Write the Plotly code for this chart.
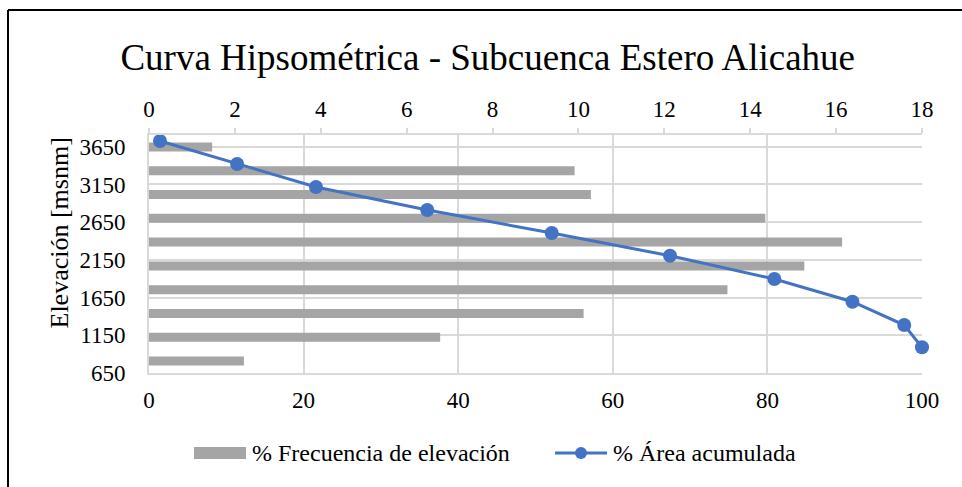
import plotly.graph_objects as go

# Elevation classes (mid-elevation of each band, top to bottom, m a.s.l.)
elev_media = [3648, 3333, 3017, 2701, 2386, 2070, 1755, 1439, 1123, 808]
# Share of basin area in each elevation band (%)
frecuencia = [1.47, 9.91, 10.29, 14.35, 16.14, 15.26, 13.47, 10.12, 6.78, 2.21]

# Hypsometric curve: cumulative area (%) versus elevation (m a.s.l.)
area_acumulada = [1.42, 11.4, 21.6, 36.0, 52.1, 67.4, 80.9, 91.0, 97.7, 100.0]
elevacion = [3726, 3421, 3117, 2811, 2506, 2205, 1896, 1595, 1286, 991]

y_ticks = [650, 1150, 1650, 2150, 2650, 3150, 3650]
area_ticks = [0, 20, 40, 60, 80, 100]
frec_max = 18
elev_rango = [650, 3806]

FONT = "Liberation Serif"
GRID = "#d9d9d9"
BLUE = "#4472C4"
GRAY = "#A5A5A5"

# plot-area placement in pixels (used to place legend / frame in paper units)
W, H = 962, 487
L, R, T, B = 149, 40, 135, 114
PW, PH = W - L - R, H - T - B


def px(xp):
    return (xp - L) / PW


def py(yp):
    return (H - B - yp) / PH


fig = go.Figure()

fig.add_trace(go.Bar(
    x=frecuencia, y=elev_media, orientation="h",
    xaxis="x", yaxis="y", width=120,
    marker=dict(color=GRAY, line=dict(width=0)),
    name="% Frecuencia de elevación", showlegend=False,
))

fig.add_trace(go.Scatter(
    x=area_acumulada, y=elevacion,
    xaxis="x2", yaxis="y",
    mode="lines+markers", cliponaxis=False,
    line=dict(color=BLUE, width=3),
    marker=dict(color=BLUE, size=14),
    name="% Área acumulada", showlegend=False,
))

fig.update_layout(
    width=W, height=H,
    margin=dict(l=L, r=R, t=T, b=B),
    paper_bgcolor="white", plot_bgcolor="white",
    font=dict(family=FONT, size=23, color="black"),
    title=dict(text="Curva Hipsométrica - Subcuenca Estero Alicahue",
               x=0.507, xanchor="center", y=0.883, yanchor="middle",
               font=dict(family=FONT, size=37, color="black")),
    showlegend=False,
    # top axis: frequency (%); vertical grid follows the bottom (area) axis
    xaxis=dict(range=[0, frec_max], dtick=2, tick0=0, side="top",
               showgrid=False, zeroline=False, showline=True, linecolor=GRID,
               linewidth=2, ticks="outside", ticklen=5, tickcolor=GRID,
               tickwidth=1.5, tickfont=dict(family=FONT, size=23),
               ticklabelstandoff=2,
               minor=dict(tickvals=[v * frec_max / 100 for v in area_ticks],
                          showgrid=True, gridcolor=GRID, gridwidth=2, ticks="")),
    # bottom axis: cumulative area (%)
    xaxis2=dict(range=[0, 100], tickvals=area_ticks, overlaying="x", side="bottom",
                showgrid=False, zeroline=False, showline=True, linecolor=GRID,
                linewidth=2, ticks="", tickfont=dict(family=FONT, size=23),
                ticklabelstandoff=5),
    yaxis=dict(range=elev_rango, tickvals=y_ticks, showgrid=True, gridcolor=GRID,
               gridwidth=2, zeroline=False, showline=True, linecolor=GRID,
               linewidth=2, ticks="", tickfont=dict(family=FONT, size=23),
               ticklabelstandoff=17),
)

# Y axis title
fig.add_annotation(text="Elevación [msnm]", xref="paper", yref="paper",
                   x=px(59), y=py(233.5), textangle=-90, showarrow=False,
                   xanchor="center", yanchor="middle",
                   font=dict(family=FONT, size=26, color="black"))

# Legend
fig.add_shape(type="rect", xref="paper", yref="paper",
              x0=px(194), x1=px(246), y0=py(459), y1=py(447),
              fillcolor=GRAY, line=dict(width=0))
fig.add_annotation(text="% Frecuencia de elevación", xref="paper", yref="paper",
                   x=px(250), y=py(453), xanchor="left", yanchor="middle",
                   showarrow=False, font=dict(family=FONT, size=24, color="black"))
fig.add_shape(type="line", xref="paper", yref="paper",
              x0=px(555), x1=px(607), y0=py(453), y1=py(453),
              line=dict(color=BLUE, width=3))
fig.add_shape(type="circle", xref="paper", yref="paper",
              xsizemode="pixel", ysizemode="pixel",
              xanchor=px(581), yanchor=py(453), x0=-6, x1=6, y0=-6, y1=6,
              fillcolor=BLUE, line=dict(width=0))
fig.add_annotation(text="% Área acumulada", xref="paper", yref="paper",
                   x=px(611), y=py(453), xanchor="left", yanchor="middle",
                   showarrow=False, font=dict(family=FONT, size=24, color="black"))

# Outer chart frame (left and top edges)
fig.add_shape(type="line", xref="paper", yref="paper",
              x0=px(8), x1=px(8), y0=py(H + 10), y1=py(10),
              line=dict(color="black", width=2))
fig.add_shape(type="line", xref="paper", yref="paper",
              x0=px(8), x1=px(W + 10), y0=py(10), y1=py(10),
              line=dict(color="black", width=2))

fig.write_html("out.html")
